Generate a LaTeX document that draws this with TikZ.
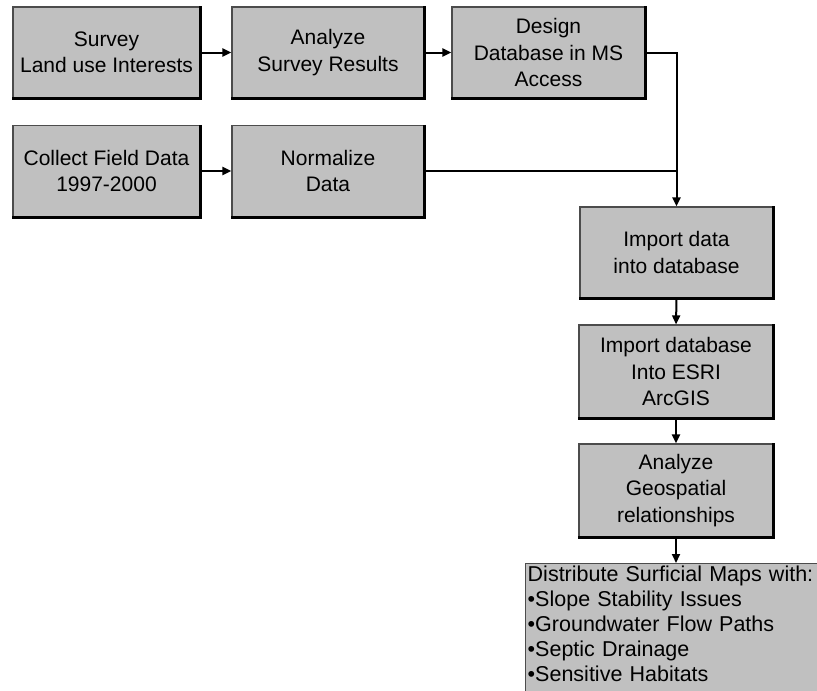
\documentclass[tikz,border=0pt]{standalone}
\usepackage{fontspec}
\setmainfont{Liberation Sans}
\usetikzlibrary{arrows.meta}
\definecolor{boxgray}{RGB}{192,192,192}
\begin{document}
\begin{tikzpicture}[x=1pt,y=-1pt,
  box/.style={rectangle, fill=boxgray, draw=black!70, line width=1.2pt, inner sep=0pt,
    align=center, font=\fontsize{21}{26.5}\selectfont},
  std/.style={box, minimum width=190, minimum height=91},
  edgeshade/.style={line width=3pt, black},
  conn/.style={line width=2pt, -{Triangle[length=9pt,width=8pt]}},
  plainline/.style={line width=2pt}]
\useasboundingbox (0,0) rectangle (817,691);
\clip (0,0) rectangle (817,691);
\node[std, minimum width=187] (survey) at (106.5,52.5) {Survey\\Land use Interests};
\node[std, minimum width=192] (anasurv) at (328,52.5) {Analyze\\Survey Results};
\node[std, minimum width=193] (design) at (548.5,52.5) {Design\\Database in MS\\Access};
\node[std, minimum width=187] (collect) at (106.5,171) {Collect Field Data\\1997-2000};
\node[std, minimum width=192] (normal) at (328,171) {Normalize\\Data};
\node[std, minimum width=193] (impdata) at (676.5,252.5) {Import data\\ into database};
\node[std, minimum width=194, minimum height=93] (impdb) at (676,371.5) {Import database\\Into ESRI\\ArcGIS};
\node[std, minimum width=194, minimum height=93] (anageo) at (676,490.5) {Analyze\\Geospatial\\relationships};
\node[box, anchor=north west, minimum width=320, minimum height=150] (dist) at (525,563) {};
\node[anchor=north west, align=left, inner sep=0pt, text width=300,
  font=\fontsize{21.5}{25}\selectfont] (disttxt) at ([xshift=2.5pt,yshift=-3pt]dist.north west)
  {Distribute Surficial Maps with:\\
   \textbullet Slope Stability Issues\\
   \textbullet Groundwater Flow Paths\\
   \textbullet Septic Drainage\\
   \textbullet Sensitive Habitats};
\foreach \n in {survey,anasurv,design,collect,normal,impdata,impdb,anageo}
  \draw[edgeshade] (\n.north east) -- (\n.south east) -- (\n.south west);
\draw[conn] (survey.east) -- (anasurv.west);
\draw[conn] (anasurv.east) -- (design.west);
\draw[conn] (collect.east) -- (normal.west);
\coordinate (junc) at (impdata.north |- normal.east);
\draw[conn] (design.east) -| (impdata.north);
\draw[plainline] (normal.east) -- (junc);
\draw[conn] (impdata.south) -- (impdb.north);
\draw[conn] (impdb.south) -- (anageo.north);
\draw[conn] (anageo.south) -- (anageo.south |- dist.north);
\end{tikzpicture}
\end{document}
